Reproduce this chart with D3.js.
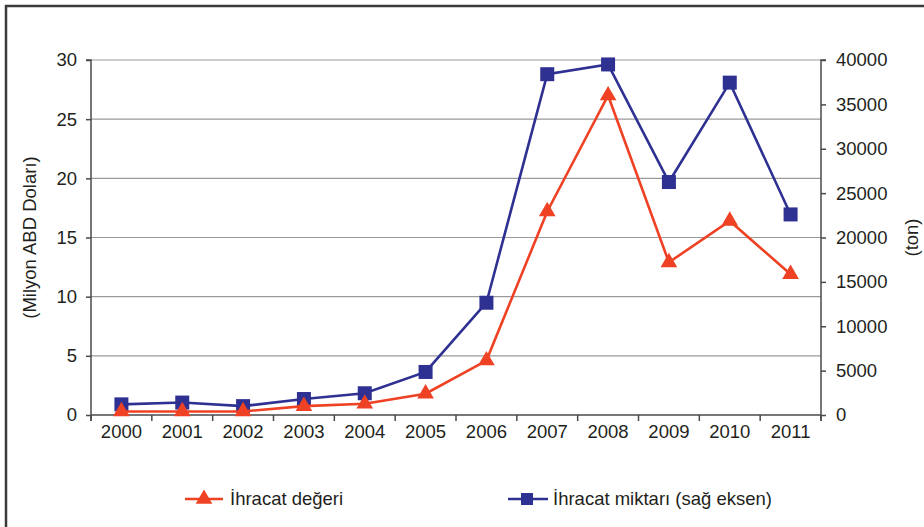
<!DOCTYPE html>
<html><head><meta charset="utf-8">
<script src="https://cdn.jsdelivr.net/npm/d3@7"></script>
<style>body{margin:0;background:#fff}svg{display:block}text{font-family:"Liberation Sans",Arial,sans-serif;fill:#231f20}</style>
</head><body>
<script>
const years = ["2000","2001","2002","2003","2004","2005","2006","2007","2008","2009","2010","2011"];
const exportValue = [0.3,0.3,0.3,0.75,0.95,1.8,4.6,17.2,27.0,12.9,16.4,11.9];
const exportQty = [1200,1400,1000,1800,2450,4850,12650,38400,39500,26250,37450,22600];
const leftTicks = [0,5,10,15,20,25,30];
const rightTicks = [0,5000,10000,15000,20000,25000,30000,35000,40000];
const seriesNames = ["İhracat değeri","İhracat miktarı (sağ eksen)"];
const leftTitle = "(Milyon ABD Doları)";
const rightTitle = "(ton)";

const W=924,H=527;
const m={l:91,r:821,t:60,b:415};
const red="#ef4123", blue="#2e3192";
const svg=d3.select("body").append("svg").attr("width",W).attr("height",H);
svg.append("path").attr("d",`M6,${H} L6,6 L${W},6`).attr("fill","none").attr("stroke","#3a3a3a").attr("stroke-width",2.5);

const x=d3.scaleBand().domain(years).range([m.l,m.r]);
const yL=d3.scaleLinear().domain([0,30]).range([m.b,m.t]);
const yR=d3.scaleLinear().domain([0,40000]).range([m.b,m.t]);

// grid
svg.append("g").selectAll("line").data(leftTicks.filter(d=>d>0)).join("line")
 .attr("x1",m.l).attr("x2",m.r).attr("y1",d=>yL(d)).attr("y2",d=>yL(d))
 .attr("stroke","#9a9a9a").attr("stroke-width",1.2);

const fs=18.5;
// left axis
const gl=svg.append("g").attr("transform",`translate(${m.l},0)`)
 .call(d3.axisLeft(yL).tickValues(leftTicks).tickSize(5).tickPadding(9).tickFormat(d3.format("d")));
// right axis
const gr=svg.append("g").attr("transform",`translate(${m.r},0)`)
 .call(d3.axisRight(yR).tickValues(rightTicks).tickSize(5).tickPadding(10).tickFormat(d3.format("d")));
// x axis
const boundaries = years.map(d=>x(d)).concat([m.r]);
const gx=svg.append("g").attr("transform",`translate(0,${m.b})`)
 .call(d3.axisBottom(x).tickSize(0).tickPadding(17));
gx.selectAll(".tick text").attr("dy","0.35em");
gx.append("g").selectAll("line").data(boundaries).join("line")
 .attr("x1",d=>d).attr("x2",d=>d).attr("y1",0).attr("y2",6).attr("stroke","#4a4a4a").attr("stroke-width",1.5);
[gl,gr,gx].forEach(g=>{
  g.attr("font-size",fs).attr("font-family","Liberation Sans, Arial");
  g.select(".domain").attr("stroke","#4a4a4a").attr("stroke-width",1.5);
  g.selectAll(".tick line").attr("stroke","#4a4a4a").attr("stroke-width",1.5);
  g.selectAll("text").style("font-size",fs+"px").attr("fill","#231f20");
});
gl.select(".domain").attr("d",`M-5,${m.t}H0V${m.b+6}`);
gr.select(".domain").attr("d",`M5,${m.t}H0V${m.b+6}`);
gx.select(".domain").attr("d",`M${m.l},0H${m.r}`);

svg.append("text").attr("transform",`translate(36,${(m.t+m.b)/2}) rotate(-90)`)
 .attr("text-anchor","middle").style("font-size",fs+"px").text(leftTitle);
svg.append("text").attr("transform",`translate(918,${(m.t+m.b)/2}) rotate(-90)`)
 .attr("text-anchor","middle").style("font-size",fs+"px").text(rightTitle);

const cx=d=>x(d)+x.bandwidth()/2;
const tri=d3.symbol().type(d3.symbolTriangle).size(120);
// blue series
const lineR=d3.line().x((d,i)=>cx(years[i])).y(d=>yR(d));
svg.append("path").datum(exportQty).attr("d",lineR).attr("fill","none").attr("stroke",blue).attr("stroke-width",2.6);
svg.append("g").selectAll("rect").data(exportQty).join("rect")
 .attr("x",(d,i)=>cx(years[i])-7).attr("y",d=>yR(d)-7).attr("width",14).attr("height",14).attr("fill",blue);
// red series
const lineL=d3.line().x((d,i)=>cx(years[i])).y(d=>yL(d));
svg.append("path").datum(exportValue).attr("d",lineL).attr("fill","none").attr("stroke",red).attr("stroke-width",2.6);
svg.append("g").selectAll("path").data(exportValue).join("path")
 .attr("d",tri).attr("transform",(d,i)=>`translate(${cx(years[i])},${yL(d)})`).attr("fill",red);

// legend
const ly=499;
const lg=svg.append("g");
lg.append("line").attr("x1",185).attr("x2",223).attr("y1",ly).attr("y2",ly).attr("stroke",red).attr("stroke-width",2.6);
lg.append("path").attr("d",tri).attr("transform",`translate(204,${ly})`).attr("fill",red);
lg.append("text").attr("x",230).attr("y",ly).attr("dy","0.35em").style("font-size",fs+"px").text(seriesNames[0]);
lg.append("line").attr("x1",508).attr("x2",548).attr("y1",ly).attr("y2",ly).attr("stroke",blue).attr("stroke-width",2.6);
lg.append("rect").attr("x",521).attr("y",ly-6).attr("width",12).attr("height",12).attr("fill",blue);
lg.append("text").attr("x",553).attr("y",ly).attr("dy","0.35em").style("font-size",fs+"px").text(seriesNames[1]);
</script>
</body></html>
